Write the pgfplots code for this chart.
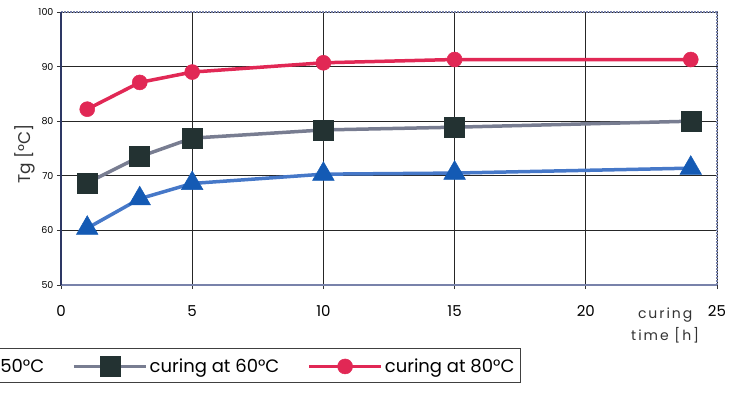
\documentclass[border=0pt]{standalone}
\usepackage{pgfplots}
\pgfplotsset{compat=1.18}
\usepackage{fontspec}
\setmainfont{Poppins}
\newfontfamily\spaced[LetterSpace=14]{Poppins}
\definecolor{redc}{RGB}{225,40,85}
\definecolor{grayl}{RGB}{120,125,145}
\definecolor{sqf}{RGB}{35,50,50}
\definecolor{bluel}{RGB}{70,120,200}
\definecolor{trif}{RGB}{20,90,180}
\definecolor{framec}{RGB}{120,130,170}
\definecolor{axisc}{RGB}{45,55,100}
\begin{document}
\begin{tikzpicture}[x=1pt,y=1pt]
\path[use as bounding box, clip] (0,0) rectangle (739,394);
\begin{axis}[
  at={(61pt,109pt)}, anchor=south west,
  scale only axis, width=656pt, height=273pt,
  xmin=0, xmax=25, ymin=50, ymax=100,
  xtick={0,5,...,25}, ytick={50,60,...,100},
  yticklabels={50,60,70,80,90,100},
  /pgf/number format/assume math mode=true,
  tick pos=left, tick align=outside, major tick length=4pt,
  tick style={draw=black!80, line width=0.8pt},
  x tick label style={font=\fontsize{15}{17}\selectfont, yshift=-13pt},
  y tick label style={font=\fontsize{9.5}{11}\selectfont},
  grid=major, major grid style={draw=black!85, line width=0.8pt},
  axis line style={draw=none},
  clip=false,
  ylabel={Tg [°C]},
  ylabel style={at={(axis description cs:-0.055,0.48)}, anchor=center, font=\fontsize{17}{19}\selectfont, text=black!80},
  legend columns=3,
  legend style={at={(axis description cs:0.701,-0.2308)}, anchor=north east,
    draw=black!75, line width=0.9pt, font=\fontsize{18}{20}\selectfont,
    inner ysep=5.5pt, inner xsep=4pt,
    /tikz/every even column/.append style={column sep=26pt}},
  legend image code/.code={\draw[mark repeat=2,mark phase=2,#1] plot coordinates {(0pt,0pt) (36pt,0pt) (72pt,0pt)};},
]
\draw[framec, line width=2pt, densely dotted] (rel axis cs:0,1) -- (rel axis cs:1,1) -- (rel axis cs:1,0);
\draw[framec, line width=2.2pt] (rel axis cs:0,0) -- (rel axis cs:1,0);
\draw[axisc, line width=2.5pt] (rel axis cs:0,0) -- (rel axis cs:0,1);
\addplot[bluel, line width=3.5pt, mark=triangle*, mark size=12.5pt, mark options={fill=trif, draw=trif, line width=0.5pt}]
  coordinates {(1,60.4) (3,65.8) (5,68.6) (10,70.3) (15,70.5) (24,71.4)};
\addlegendentry{curing at 50°C}
\addplot[grayl, line width=3.5pt, mark=square*, mark size=10pt, mark options={fill=sqf, draw=sqf, line width=0.5pt}]
  coordinates {(1,68.7) (3,73.5) (5,76.9) (10,78.4) (15,78.9) (24,80.0)};
\addlegendentry{curing at 60°C}
\addplot[redc, line width=3.5pt, mark=*, mark size=7.5pt, mark options={fill=redc, draw=redc, line width=0.5pt}]
  coordinates {(1,82.2) (3,87.1) (5,89.0) (10,90.7) (15,91.3) (24,91.3)};
\addlegendentry{curing at 80°C}
\node[align=center, font=\spaced\fontsize{14}{22}\selectfont, text=black!80] at (axis description cs:0.921,-0.15) {curing\\time [h]};
\end{axis}
\end{tikzpicture}
\end{document}
